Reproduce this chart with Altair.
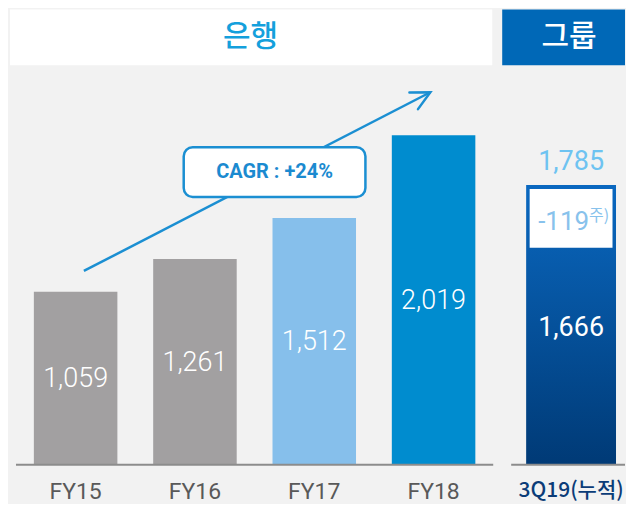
import altair as alt
import pandas as pd

# ---------------- data ----------------
bank_years = ["FY15", "FY16", "FY17", "FY18"]
bank_values = [1059, 1261, 1512, 2019]
bank_labels = ["1,059", "1,261", "1,512", "2,019"]
bank_colors = ["#a2a0a1", "#a2a0a1", "#86bfeb", "#008ccf"]

group_period = ["3Q19(누적)"]
group_total = [1785]
group_base = [1666]
group_total_label = ["1,785"]
group_base_label = ["1,666"]
group_adjust_label = ["-119"]
note_mark = "주)"

bank_title = "은행"
group_title = "그룹"
cagr_text = "CAGR : +24%"

# ---------------- styles ----------------
W1, W2, H = 490, 123, 456
FONT = "Roboto"
KFONT = "Noto Sans CJK KR"
ARROW = "#1b8fd2"
BASE = "#8c8c8c"

bank_df = pd.DataFrame({"year": bank_years, "value": bank_values,
                        "label": bank_labels, "color": bank_colors})
group_df = pd.DataFrame({"period": group_period, "total": group_total,
                         "base": group_base, "total_label": group_total_label,
                         "base_label": group_base_label,
                         "adj_label": group_adjust_label})
one = pd.DataFrame({"k": [0]})

# ---------------- left panel (bank) ----------------
x1 = alt.X("year:N", sort=bank_years,
           scale=alt.Scale(paddingInner=0.3, paddingOuter=0.2),
           axis=alt.Axis(title=None, labelAngle=0, ticks=False, tickSize=0,
                         domain=False, grid=False, labelFontSize=23,
                         labelColor="#595959", labelFont=FONT,
                         labelPadding=16))
y1s = alt.Scale(domain=[0, 2790], nice=False, zero=True)

head1 = alt.Chart(one).mark_rect(color="white").encode(
    x=alt.value(0), x2=alt.value(483), y=alt.value(0), y2=alt.value(56))
head1_text = alt.Chart(one).mark_text(
    font=KFONT, fontSize=30, fontWeight=500, color="#14a0dc",
    baseline="middle", align="center").encode(
    x=alt.value(241), y=alt.value(28), text=alt.value(bank_title))

bars1 = alt.Chart(bank_df).mark_bar().encode(
    x=x1,
    y=alt.Y("value:Q", scale=y1s, axis=None),
    color=alt.Color("color:N", scale=None))

labels1 = alt.Chart(bank_df).transform_calculate(
    mid="datum.value / 2").mark_text(
    font=FONT, fontSize=27, fontWeight=300, color="white",
    baseline="middle", align="center", dy=1).encode(
    x=alt.X("year:N", sort=bank_years),
    y=alt.Y("mid:Q", scale=y1s, axis=None),
    text="label:N")

base1 = alt.Chart(one).mark_rule(color=BASE, strokeWidth=2).encode(
    x=alt.value(6), x2=alt.value(484), y=alt.value(H))

arrow_line = alt.Chart(one).mark_rule(color=ARROW, strokeWidth=2.5).encode(
    x=alt.value(74), y=alt.value(262), x2=alt.value(421), y2=alt.value(83))
arrow_head = alt.Chart(one).mark_point(
    shape="M -1 -0.5 L 0 0 L -1 0.5", filled=False, size=1400,
    strokeWidth=2.5, color=ARROW, angle=332.7, opacity=1,
    strokeCap="round").encode(x=alt.value(421), y=alt.value(83))

cagr_box = alt.Chart(one).mark_rect(
    fill="white", stroke=ARROW, strokeWidth=2.5, cornerRadius=9).encode(
    x=alt.value(174), x2=alt.value(356), y=alt.value(138), y2=alt.value(188))
cagr_label = alt.Chart(one).mark_text(
    font=FONT, fontSize=20, fontWeight="bold", color="#1b8ad0",
    baseline="middle", align="center").encode(
    x=alt.value(265), y=alt.value(163), text=alt.value(cagr_text))

left = alt.layer(head1, head1_text, bars1, labels1, base1, arrow_line,
                 arrow_head, cagr_box, cagr_label).properties(width=W1, height=H)

# ---------------- right panel (group) ----------------
x2 = alt.X("period:N",
           scale=alt.Scale(paddingInner=0, paddingOuter=0.1833, align=0.727),
           axis=alt.Axis(title=None, labelAngle=0, ticks=False, tickSize=0,
                         domain=False, grid=False, labelFontSize=21,
                         labelColor="#0b3c78", labelFont=KFONT,
                         labelFontWeight=500, labelPadding=15))
y2s = alt.Scale(domain=[0, 2905], nice=False, zero=True)

head2 = alt.Chart(one).mark_rect(color="#0068b7").encode(
    x=alt.value(0), x2=alt.value(W2), y=alt.value(0), y2=alt.value(56))
head2_text = alt.Chart(one).mark_text(
    font=KFONT, fontSize=30, fontWeight=500, color="white",
    baseline="middle", align="center").encode(
    x=alt.value(67), y=alt.value(28), text=alt.value(group_title))

grad = alt.Gradient(
    gradient="linear",
    stops=[alt.GradientStop(color="#0a68c0", offset=0),
           alt.GradientStop(color="#003a76", offset=1)],
    x1=0, x2=0, y1=0, y2=1)

gbar = alt.Chart(group_df).mark_bar(color=grad).encode(
    x=x2, y=alt.Y("total:Q", scale=y2s, axis=None))

gbox = alt.Chart(group_df).mark_bar(
    color="white", width=83, yOffset=4, y2Offset=63).encode(
    x=alt.X("period:N"),
    y=alt.Y("total:Q", scale=y2s, axis=None),
    y2="total:Q")

gtotal = alt.Chart(group_df).mark_text(
    font=FONT, fontSize=27, color="#6ec3f1", baseline="middle",
    align="center", dy=-23).encode(
    x=alt.X("period:N"), y=alt.Y("total:Q", scale=y2s, axis=None),
    text="total_label:N")

gadj = alt.Chart(group_df).mark_text(
    font=FONT, fontSize=26, color="#88c2ec", baseline="middle",
    align="right", dx=18, dy=37).encode(
    x=alt.X("period:N"), y=alt.Y("total:Q", scale=y2s, axis=None),
    text="adj_label:N")

gnote = alt.Chart(group_df).mark_text(
    font=KFONT, fontSize=16, color="#88c2ec", baseline="middle",
    align="left", dx=18, dy=31).encode(
    x=alt.X("period:N"), y=alt.Y("total:Q", scale=y2s, axis=None),
    text=alt.value(note_mark))

gbase = alt.Chart(group_df).transform_calculate(
    mid="datum.base / 2").mark_text(
    font=FONT, fontSize=27, color="white", baseline="middle",
    align="center", dy=-6).encode(
    x=alt.X("period:N"), y=alt.Y("mid:Q", scale=y2s, axis=None),
    text="base_label:N")

base2 = alt.Chart(one).mark_rule(color=BASE, strokeWidth=2).encode(
    x=alt.value(9), x2=alt.value(W2), y=alt.value(H))

right = alt.layer(head2, head2_text, gbar, gbox, gtotal, gadj, gnote,
                  gbase, base2).properties(width=W2, height=H)

chart = alt.hconcat(left, right, spacing=3).properties(
    background="#f2f2f2",
    padding={"left": 2, "top": 1, "right": 0, "bottom": 0},
).configure_view(stroke=None).configure_axis(grid=False)

chart.save("out.html", embed_options={"renderer": "svg", "actions": False})
